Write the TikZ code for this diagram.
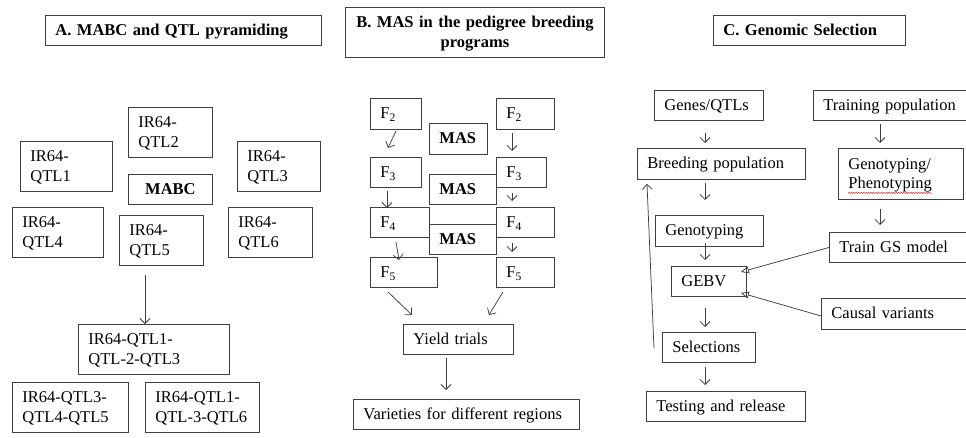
\documentclass[tikz,border=0pt]{standalone}
\usepackage{fontspec}
\setmainfont{Liberation Serif}
\usetikzlibrary{arrows.meta,decorations.pathmorphing}
\definecolor{BoxLine}{HTML}{3F3F3F}
\definecolor{SpellRed}{HTML}{E23A3A}
\newcommand\boxfont{\fontsize{16.5}{19.5}\selectfont}
\newcommand\bstrut{\rule[-4.5pt]{0pt}{19pt}}
\tikzset{>={Straight Barb[length=5pt,width=10pt]},box/.style={draw=BoxLine,line width=.9pt,
 anchor=north west,inner xsep=10pt,inner ysep=0pt,align=left,font=\boxfont,
 execute at begin node=\bstrut,execute at end node=\bstrut},
 heading/.style={box,font=\boxfont\bfseries},wh/.style 2 args={text width=#1pt-20pt,minimum height=#2pt},
 arr/.style={draw=BoxLine,line width=.75pt,->},
 tri/.style={draw=BoxLine,line width=.75pt,-{Triangle[open,length=8pt,width=7pt]}}}

\begin{document}
\begin{tikzpicture}[x=1pt,y=-1pt]
\useasboundingbox (0,0) rectangle (966,437);
\coordinate (colB) at (512,0);
\coordinate (colC) at (705,0);
\coordinate (colT) at (880,0);
% A
\node[heading,wh={276}{30}] (tA) at (45,15) {A. MABC and QTL pyramiding};
\node[box,wh={92}{50}] (q1) at (20,141) {IR64-\\QTL1};
\node[box,wh={84}{50}] (q2) at (128,107) {IR64-\\QTL2};
\node[box,wh={83}{50}] (q3) at (237,141) {IR64-\\QTL3};
\node[heading,wh={84}{30},align=center] (mabc) at (128,174) {MABC};
\node[box,wh={91}{50}] (q4) at (12,207) {IR64-\\QTL4};
\node[box,wh={84}{50}] (q5) at (119,215) {IR64-\\QTL5};
\node[box,wh={84}{50}] (q6) at (228,207) {IR64-\\QTL6};
\node[box,wh={151}{50}] (q123) at (78,324) {IR64-QTL1-\\QTL-2-QTL3};
\node[box,wh={116}{50}] (q345) at (12,382) {IR64-QTL3-\\QTL4-QTL5};
\node[box,wh={114}{50}] (q136) at (145,382) {IR64-QTL1-\\QTL-3-QTL6};
\draw[arr] ([shift={(26,9)}]q5.south west) -- ([shift={(67,0)}]q123.north west);
% B
\node[heading,wh={259}{50},align=center] (tB) at (345,7) {B. MAS in the pedigree breeding\\programs};
\node[box,wh={51}{31}] (f2l) at (370,98) {F\textsubscript{2}};
\node[box,wh={58}{31}] (f2r) at (496,98) {F\textsubscript{2}};
\node[heading,wh={58}{31}] (mas1) at (429,123) {MAS};
\node[box,wh={51}{30}] (f3l) at (370,157) {F\textsubscript{3}};
\node[box,wh={50}{30}] (f3r) at (496,157) {F\textsubscript{3}};
\node[heading,wh={67}{30}] (mas2) at (429,174) {MAS};
\node[box,wh={59}{30}] (f4l) at (370,207) {F\textsubscript{4}};
\node[box,wh={58}{30}] (f4r) at (496,207) {F\textsubscript{4}};
\node[heading,wh={67}{30}] (mas3) at (429,224) {MAS};
\node[box,wh={67}{30}] (f5l) at (370,257) {F\textsubscript{5}};
\node[box,wh={58}{30}] (f5r) at (496,257) {F\textsubscript{5}};
\node[box,wh={110}{30}] (yield) at (403,324) {Yield trials};
\node[box,wh={226}{30}] (var) at (353,399) {Varieties for different regions};
\draw[arr] ([shift={(26,1)}]f2l.south west) -- ([shift={(18,-9)}]f3l.north west);
\draw[arr] ([shift={(17,3)}]f3l.south west) -- ([shift={(17,1)}]f4l.north west);
\draw[arr] ([shift={(26,4)}]f4l.south west) -- ([shift={(29,3)}]f5l.north west);
\foreach \a/\b/\s/\e in {f2r/f3r/3pt/6pt,f3r/f4r/5pt/6pt,f4r/f5r/5pt/5pt}
 \draw[arr,shorten <=\s,shorten >=\e] (\a.south -| colB) -- (\b.north -| colB);
\draw[arr] ([shift={(18,4)}]f5l.south west) -- ([shift={(9,-9)}]yield.north west);
\draw[arr] ([shift={(7,4)}]f5r.south west) -- ([shift={(-25,-9)}]yield.north east);
\draw[arr] ([shift={(43,3)}]yield.south west) -- ([shift={(93,-9)}]var.north west);
% C
\node[heading,wh={192}{30}] (tC) at (713,15) {C. Genomic Selection};
\node[box,wh={109}{30}] (genes) at (654,90) {Genes/QTLs};
\node[box,wh={159}{30}] (train) at (813,90) {Training population};
\node[box,wh={168}{31}] (breed) at (637,148) {Breeding population};
\node[box,wh={125}{51}] (gp) at (838,148) {Genotyping/\\Phenotyping};
\node[box,wh={108}{31}] (geno) at (655,215) {Genotyping};
\node[box,wh={143}{30}] (tgs) at (829,232) {Train GS model};
\node[box,wh={75}{30}] (gebv) at (671,266) {GEBV};
\node[box,wh={151}{31}] (causal) at (821,298) {Causal variants};
\node[box,wh={93}{30}] (sel) at (662,332) {Selections};
\node[box,wh={159}{30}] (test) at (646,391) {Testing and release};
\foreach \a/\b/\s/\e in {genes/breed/12pt/5pt,breed/geno/3pt/15pt,geno/gebv/-4pt/6pt,gebv/sel/11pt/5pt,sel/test/4pt/6pt}
 \draw[arr,shorten <=\s,shorten >=\e] (\a.south -| colC) -- (\b.north -| colC);
\foreach \a/\b/\s/\e in {train/gp/3pt/5pt,gp/tgs/9pt/7pt}
 \draw[arr,shorten <=\s,shorten >=\e] (\a.south -| colT) -- (\b.north -| colT);
\draw[tri] (tgs.west) -- ([shift={(-6,6)}]gebv.north east);
\draw[tri] ([shift={(0,2)}]causal.west) -- ([shift={(-6,-4)}]gebv.south east);
\draw[arr] ([shift={(-8,1)}]sel.west) -- ([shift={(10,4)}]breed.south west);
\draw[SpellRed,line width=.5pt,decorate,decoration={snake,amplitude=.7pt,segment length=2.5pt}]
 ([shift={(10,-7)}]gp.south west) -- ([shift={(94,-7)}]gp.south west);
\end{tikzpicture}
\end{document}
